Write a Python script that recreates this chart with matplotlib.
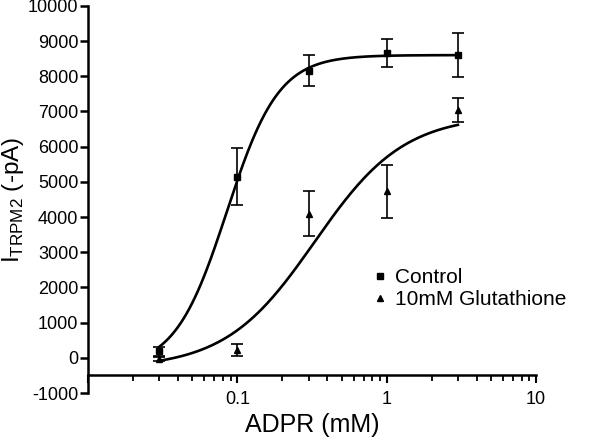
import numpy as np
import matplotlib
matplotlib.use('Agg')
import matplotlib.pyplot as plt
from matplotlib.lines import Line2D
from matplotlib.ticker import LogLocator, NullFormatter, FixedLocator

plt.rcParams['font.family'] = ['Liberation Sans', 'DejaVu Sans']
plt.rcParams['mathtext.fontset'] = 'custom'
plt.rcParams['mathtext.rm'] = 'Liberation Sans'
plt.rcParams['axes.unicode_minus'] = False

# data (ADPR concentration in mM, current in -pA)
adpr = [0.03, 0.1, 0.3, 1, 3]
control = [180, 5150, 8150, 8660, 8590]
control_err = [130, 800, 440, 410, 625]
gsh = [-30, 230, 4090, 4730, 7030]
gsh_err = [60, 170, 640, 760, 340]

# Hill fit parameters: bottom, top, EC50, slope
control_fit = (-300, 8600, 0.085, 2.5)
gsh_fit = (-300, 6900, 0.33, 1.45)


def hill(x, p):
    bottom, top, ec50, n = p
    return bottom + (top - bottom) / (1 + (ec50 / x) ** n)


fig = plt.figure(figsize=(6, 4.38), dpi=100)
ax = fig.add_axes([0.1467, 0.1027, 0.7466, 0.884])

xs = np.logspace(np.log10(0.03), np.log10(3), 200)
ax.plot(xs, hill(xs, control_fit), color='black', lw=1.9)
ax.plot(xs, hill(xs, gsh_fit), color='black', lw=1.9)

ax.errorbar(adpr, control, yerr=control_err, fmt='s', color='black', ms=5,
            elinewidth=1.2, capsize=4, capthick=1.2)
ax.errorbar(adpr, gsh, yerr=gsh_err, fmt='^', color='black', ms=5,
            elinewidth=1.2, capsize=4, capthick=1.2)

ax.set_xscale('log')
ax.set_xlim(0.01, 10)
ax.set_ylim(-1000, 10000)
ax.set_yticks(range(-1000, 10001, 1000))
ax.xaxis.set_major_locator(FixedLocator([0.01, 0.1, 1, 10]))
ax.set_xticklabels(['', '0.1', '1', '10'])
ax.xaxis.set_minor_locator(LogLocator(base=10, subs=np.arange(2, 10)))
ax.xaxis.set_minor_formatter(NullFormatter())

ax.spines['top'].set_visible(False)
ax.spines['right'].set_visible(False)
ax.spines['bottom'].set_position(('data', -500))
ax.spines['left'].set_linewidth(1.8)
ax.spines['bottom'].set_linewidth(1.8)
ax.tick_params(axis='y', length=6, width=1.8, labelsize=13, pad=1)
ax.tick_params(axis='x', which='major', length=6, width=1.5, labelsize=13, pad=5)
ax.tick_params(axis='x', which='minor', length=4, width=1.3)

ax.set_xlabel('ADPR (mM)', fontsize=18, labelpad=4)
ax.set_ylabel(r'I$_{\mathrm{TRPM2}}$ (-pA)', fontsize=17.5, labelpad=1)

handles = [Line2D([], [], marker='s', ls='none', color='black', ms=4.5),
           Line2D([], [], marker='^', ls='none', color='black', ms=4.5)]
ax.legend(handles, ['Control', '10mM Glutathione'], loc='upper left',
          bbox_to_anchor=(0.634, 0.322), frameon=False, fontsize=15,
          handletextpad=0.3, handlelength=0.8, labelspacing=0.12,
          borderpad=0, borderaxespad=0)

fig.savefig('out.png', dpi=100)
